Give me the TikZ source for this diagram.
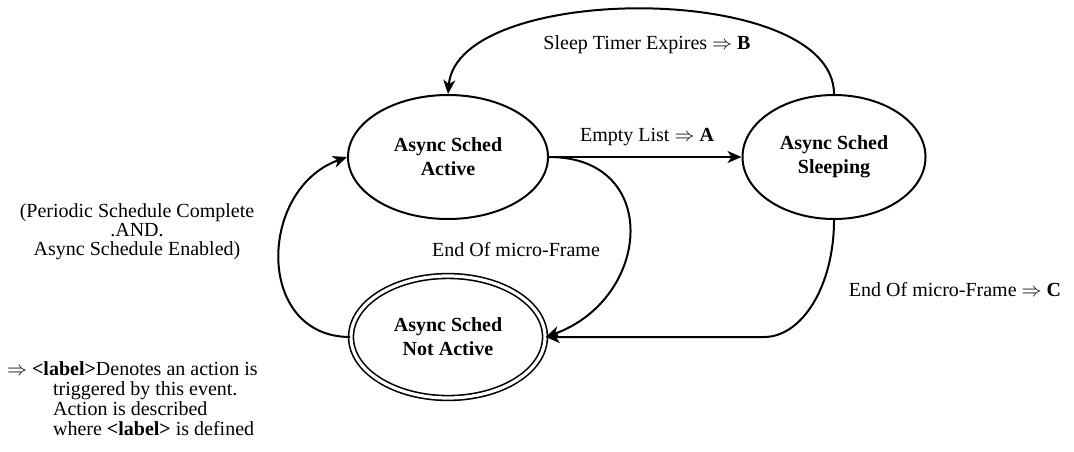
\documentclass[tikz,border=0pt]{standalone}
\usepackage{fontspec}
\setmainfont{Liberation Serif}
\usepackage{tikz}
\usetikzlibrary{arrows.meta,calc,shapes.geometric}
\tikzset{
	state/.style={ellipse, draw, line width=1pt, align=center, font=\bfseries, inner sep=0pt},
	trans/.style={line width=1pt, -{Stealth[length=7pt,width=6pt,inset=2pt]}},
}

\begin{document}
\begin{tikzpicture}[x=0.5pt, y=-0.5pt]
		%%%%% START %%%%%
		\useasboundingbox (0,0) rectangle (1074,451);
		
		\node[state, minimum width=100pt, minimum height=62pt] (active) at (448,157) {Async Sched\\Active};
		\node[state, minimum width=91.5pt, minimum height=62pt] (sleep) at (834,157) {Async Sched\\Sleeping};
		\node[state, minimum width=97pt, minimum height=61pt, line width=0.8pt, double, double distance=1.6pt] (notact) at (448,337) {Async Sched\\Not Active};
		
		\draw[trans] (sleep.north) to[out=90, in=85, looseness=0.75] (active.north);
		\node (lblB) at (647,45) {Sleep Timer Expires $\Rightarrow$ \textbf{B}};
		
		\draw[trans] (active.east) -- (sleep.west);
		\node (lblA) at (647,137) {Empty List $\Rightarrow$ \textbf{A}};
		
		\draw[trans] (active.east) to[out=0, in=20, looseness=1.6] (notact.east);
		\node (lblEnd) at (516,250) {End Of micro-Frame};
		
		\coordinate (bend) at ($(sleep.south |- notact.east)+(-70,0)$);
		\draw[trans] (sleep.south) .. controls +(0,66) and +(38,0) .. (bend) -- (notact.east);
		\node (lblC) at (955,290) {End Of micro-Frame $\Rightarrow$ \textbf{C}};
		
		\draw[trans] (notact.west) to[out=180, in=200, looseness=1.35] (active.west);
		\node[align=center, font=\fontsize{10}{9.4}\selectfont] (lblPer) at (137,232) {(Periodic Schedule Complete\\.AND.\\Async Schedule Enabled)};
		
		\node[align=left, anchor=north west, font=\fontsize{10}{10}\selectfont] (legend) at (0,355) {$\Rightarrow$ \textbf{<label>}Denotes an action is\\
			\hspace*{23pt}triggered by this event.\\
			\hspace*{23pt}Action is described\\
			\hspace*{23pt}where \textbf{<label>} is defined};
		
		%%%%% END %%%%%
	\end{tikzpicture}
\end{document}
